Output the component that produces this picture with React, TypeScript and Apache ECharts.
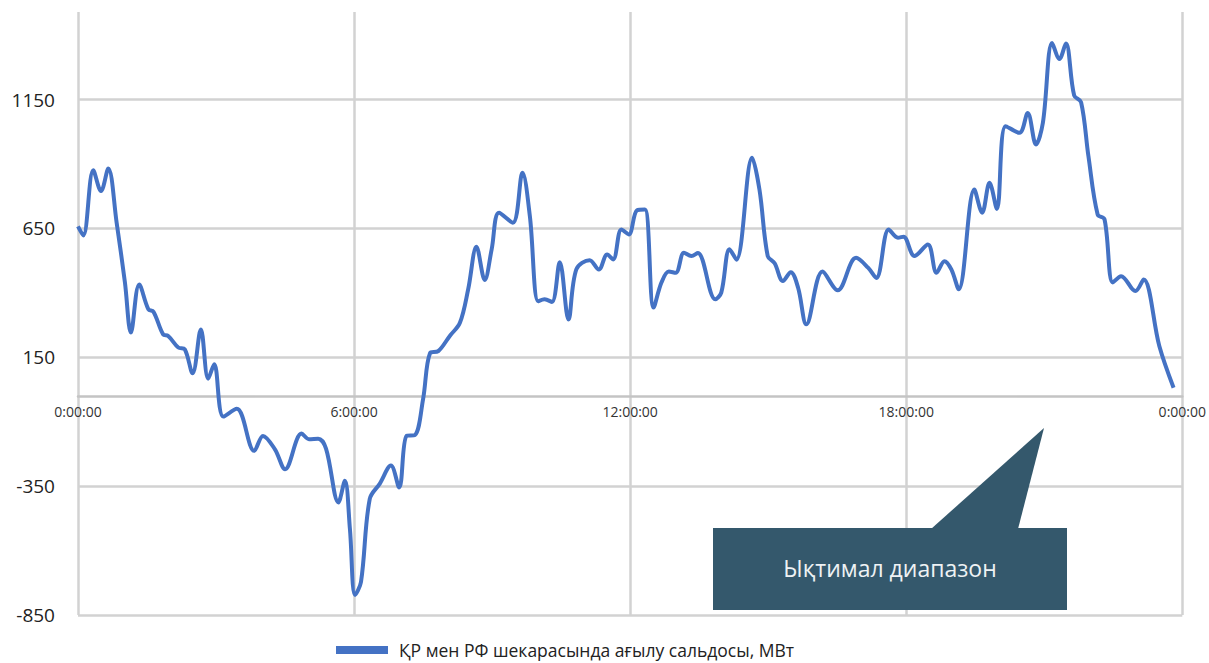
import React, { useEffect, useRef } from "react";
import * as echarts from "echarts";

const hours = [
  0, 0.115, 0.332, 0.5, 0.658, 0.84, 1.02, 1.15, 1.33, 1.53, 1.64, 1.85, 1.96, 2.18, 2.32, 2.49, 2.67, 2.83, 2.96,
  3.16, 3.45, 3.83, 4.02, 4.28, 4.5, 4.86, 5.02, 5.22, 5.39, 5.66, 5.8, 5.91, 6.02, 6.15, 6.34, 6.56, 6.8, 6.98,
  7.14, 7.32, 7.5, 7.65, 7.83, 8.08, 8.3, 8.48, 8.66, 8.84, 8.99, 9.15, 9.45, 9.66, 9.82, 10.0, 10.14, 10.3, 10.47,
  10.66, 10.83, 11.12, 11.32, 11.5, 11.63, 11.81, 11.97, 12.15, 12.32, 12.51, 12.68, 12.84, 12.99, 13.17, 13.33,
  13.47, 13.85, 13.98, 14.16, 14.31, 14.65, 14.81, 14.99, 15.14, 15.32, 15.49, 15.65, 15.83, 16.18, 16.51, 16.91,
  17.17, 17.35, 17.62, 17.82, 17.94, 18.18, 18.47, 18.66, 18.83, 18.98, 19.14, 19.48, 19.65, 19.81, 19.97, 20.16,
  20.46, 20.64, 20.82, 20.97, 21.17, 21.33, 21.47, 21.65, 21.8, 21.96, 22.16, 22.31, 22.49, 22.67, 22.98, 23.16,
  23.5, 23.81,
];

const values = [
  658, 623, 876, 795, 883, 672, 440, 246, 433, 336, 327, 239, 233, 188, 181, 88, 258, 67, 123,
  -80, -50, -213, -155, -207, -284, -146, -168, -166, -204, -413, -329, -517, -772, -722, -400, -340, -270, -355,
  -155, -152, -12, 166, 174, 233, 284, 414, 579, 450, 569, 711, 672, 866, 698, 368, 375, 365, 519,
  297, 491, 527, 491, 549, 530, 646, 627, 721, 724, 343, 440, 483, 478, 556, 543,
  555, 375, 401, 569, 529, 924, 801, 543, 515, 446, 480, 420, 278, 483, 410, 536,
  498, 458, 646, 614, 618, 543, 588, 478, 523, 491, 414, 801, 711, 827, 726, 1047,
  1021, 1098, 976, 1060, 1370, 1308, 1368, 1166, 1140, 930, 704, 685, 440, 465, 407, 452,
  194, 32,
];

const xTickHours = [0, 6, 12, 18, 24];
const xTickLabels = ["0:00:00", "6:00:00", "12:00:00", "18:00:00", "0:00:00"];
const yMin = -850;
const yMax = 1490;
const yStep = 500;

const seriesName = "ҚР мен РФ шекарасында ағылу сальдосы, МВт";
const calloutText = "Ықтимал диапазон";

export default function App() {
  const ref = useRef<HTMLDivElement>(null);

  useEffect(() => {
    if (!ref.current) return;
    const chart = echarts.init(ref.current, null, { renderer: "svg" });
    const gridColor = "#d2d2d2";
    const gridTop = 12;
    const gridBottom = 48;
    const plotH = 663 - gridTop - gridBottom;
    const zeroOffset = -Math.round(((0 - yMin) / (yMax - yMin)) * plotH);
    chart.setOption({
      animation: false,
      backgroundColor: "#ffffff",
      textStyle: { fontFamily: "Open Sans" },
      grid: { left: 78, right: 26, top: gridTop, bottom: gridBottom, containLabel: false },
      xAxis: {
        type: "value",
        min: xTickHours[0],
        max: xTickHours[xTickHours.length - 1],
        interval: 6,
        offset: zeroOffset,
        axisLine: { show: true, onZero: false, lineStyle: { color: "#c4c4c4", width: 2.5 } },
        axisTick: { show: false },
        axisLabel: {
          color: "#333333",
          fontSize: 14,
          margin: 8,
          fontFamily: "Open Sans",
          formatter: (v: number) => {
            const i = xTickHours.indexOf(v);
            return i >= 0 ? xTickLabels[i] : "";
          },
        },
        splitLine: { show: true, lineStyle: { color: gridColor, width: 2.5 } },
      },
      yAxis: {
        type: "value",
        min: yMin,
        max: yMax,
        interval: yStep,
        axisLine: { show: false },
        axisTick: { show: false },
        axisLabel: {
          color: "#222222",
          fontSize: 19,
          margin: 23,
          fontFamily: "Open Sans",
          showMaxLabel: false,
          formatter: (v: number) => String(v),
        },
        splitLine: { show: true, showMaxLine: false, lineStyle: { color: gridColor, width: 2.5 } },
      },
      legend: {
        show: true,
        left: 331,
        top: 637,
        padding: [4, 5, 2, 5],
        icon: "rect",
        itemWidth: 52,
        itemHeight: 8,
        textStyle: {
          color: "#222222",
          fontSize: 17.5,
          lineHeight: 18,
          fontFamily: "Open Sans",
          padding: [0, 0, 0, 6],
        },
        data: [seriesName],
      },
      series: [
        {
          name: seriesName,
          type: "line",
          data: hours.map((h, i) => [h, values[i]]),
          smooth: 0.35,
          showSymbol: false,
          symbol: "none",
          lineStyle: { color: "#4472c4", width: 4 },
          itemStyle: { color: "#4472c4" },
          z: 5,
        },
      ],
      graphic: [
        {
          type: "polygon",
          z: 100,
          shape: { points: [[931, 529], [1018, 529], [1044, 428]] },
          style: { fill: "#34586c" },
        },
        {
          type: "rect",
          z: 100,
          shape: { x: 713, y: 528, width: 354, height: 82 },
          style: { fill: "#34586c" },
        },
        {
          type: "text",
          z: 101,
          x: 890,
          y: 568,
          style: {
            text: calloutText,
            fill: "#eef2f4",
            fontSize: 23,
            fontFamily: "Open Sans",
            align: "center",
            verticalAlign: "middle",
          },
        },
      ],
    });
    return () => chart.dispose();
  }, []);

  return (
    <div
      ref={ref}
      style={{ position: "absolute", left: 0, top: 0, width: 1209, height: 663 }}
    />
  );
}
